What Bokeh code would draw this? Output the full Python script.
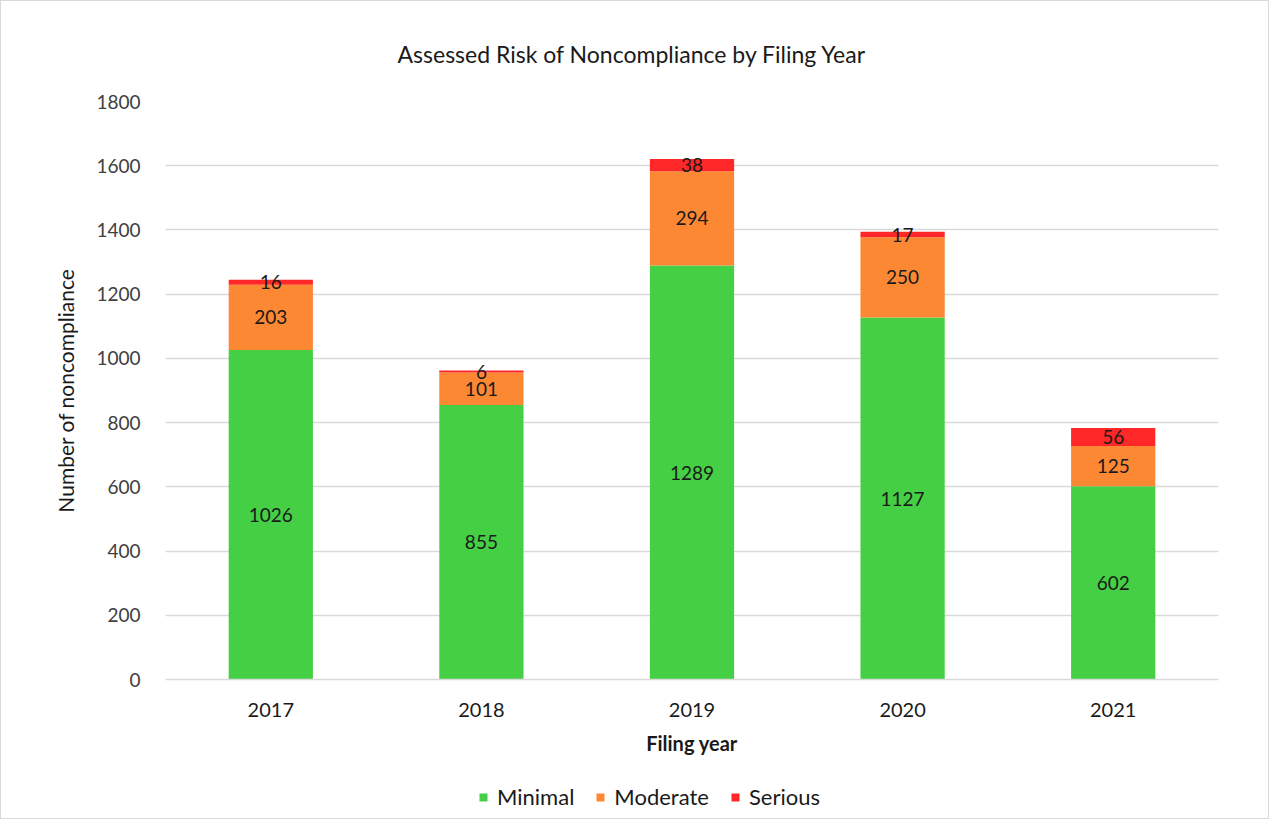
from bokeh.plotting import figure
from bokeh.models import ColumnDataSource, Range1d, LabelSet, Legend, LegendItem
from bokeh.layouts import column
from bokeh.core.properties import value
from bokeh.embed import file_html
from bokeh.resources import INLINE

years = ["2017", "2018", "2019", "2020", "2021"]
minimal = [1026, 855, 1289, 1127, 602]
moderate = [203, 101, 294, 250, 125]
serious = [16, 6, 38, 17, 56]
series = ["Minimal", "Moderate", "Serious"]
colors = ["#44CF44", "#FD8834", "#FF2727"]

FONT = "Lato"

src = ColumnDataSource(dict(year=years, Minimal=minimal, Moderate=moderate, Serious=serious))

p = figure(x_range=years, y_range=Range1d(0, 1800), width=1269, height=770,
           output_backend="svg", toolbar_location=None,
           min_border_left=164, min_border_right=52, min_border_top=100, min_border_bottom=92)

renderers = p.vbar_stack(series, x="year", width=0.4, color=colors, source=src, line_width=0)

# labels at segment centres
lab_x, lab_y, lab_t = [], [], []
for i, yr in enumerate(years):
    base = 0
    for vals in (minimal, moderate, serious):
        v = vals[i]
        lab_x.append(yr)
        lab_y.append(base + v / 2)
        lab_t.append(str(v))
        base += v
lsrc = ColumnDataSource(dict(x=lab_x, y=lab_y, t=lab_t))
p.add_layout(LabelSet(x="x", y="y", text="t", source=lsrc, text_align="center",
                      text_baseline="middle", text_font=value(FONT), text_font_size="19px",
                      text_color="#1a1a1a"))

p.title.text = "Assessed Risk of Noncompliance by Filing Year"
p.title.align = "left"
p.title.offset = 232
p.title.text_font = FONT
p.title.text_font_size = "23px"
p.title.text_font_style = "normal"
p.title.text_color = "#1a1a1a"
p.title.standoff = 68

p.xgrid.grid_line_color = None
p.ygrid.grid_line_color = "#D9D9D9"
p.ygrid.grid_line_width = 1.3
p.yaxis.ticker = list(range(0, 1801, 200))
p.yaxis.axis_line_color = None
p.yaxis.major_tick_line_color = None
p.yaxis.minor_tick_line_color = None
p.yaxis.major_label_standoff = 19
p.yaxis.major_label_text_font = FONT
p.yaxis.major_label_text_font_size = "19px"
p.yaxis.major_label_text_color = "#404040"
p.yaxis.axis_label = "Number of noncompliance"
p.yaxis.axis_label_text_font = FONT
p.yaxis.axis_label_text_font_size = "21px"
p.yaxis.axis_label_text_font_style = "normal"
p.yaxis.axis_label_text_color = "#1a1a1a"
p.yaxis.axis_label_standoff = 15

p.xaxis.axis_line_color = "#D9D9D9"
p.xaxis.axis_line_width = 1.3
p.xaxis.major_tick_line_color = None
p.xaxis.minor_tick_line_color = None
p.xaxis.major_label_standoff = 17
p.xaxis.major_label_text_font = FONT
p.xaxis.major_label_text_font_size = "20px"
p.xaxis.major_label_text_color = "#1a1a1a"
p.xaxis.axis_label = "Filing year"
p.xaxis.axis_label_text_font = FONT
p.xaxis.axis_label_text_font_size = "20px"
p.xaxis.axis_label_text_font_style = "bold"
p.xaxis.axis_label_text_color = "#1a1a1a"
p.xaxis.axis_label_standoff = 11

p.outline_line_color = None
p.styles = {"border": "1px solid #D9D9D9", "border-bottom": "none"}

# legend strip below the chart
q = figure(width=1269, height=49, output_backend="svg", toolbar_location=None,
           x_range=Range1d(0, 1), y_range=Range1d(0, 1),
           min_border_left=0, min_border_right=0, min_border_top=0, min_border_bottom=0)
q.axis.visible = False
q.grid.grid_line_color = None
q.outline_line_color = None
nan = float("nan")
leg_src = ColumnDataSource(dict(x=[nan], top=[nan]))
leg_r = [q.vbar(x="x", top="top", width=0.1, fill_color=c, line_color=c, line_alpha=0,
                source=leg_src) for c in colors]
legend = Legend(items=[LegendItem(label=s, renderers=[r]) for s, r in zip(series, leg_r)],
                orientation="horizontal", location=(313, 9),
                label_text_font=FONT, label_text_font_size="22px", label_text_color="#1a1a1a",
                glyph_width=10, glyph_height=10, label_standoff=9, spacing=21,
                border_line_color=None, background_fill_alpha=0, padding=4, margin=0)
q.add_layout(legend, "center")
q.styles = {"border": "1px solid #D9D9D9", "border-top": "none"}

layout = column(p, q, spacing=0)
open("out.html", "w").write(file_html(layout, INLINE))
